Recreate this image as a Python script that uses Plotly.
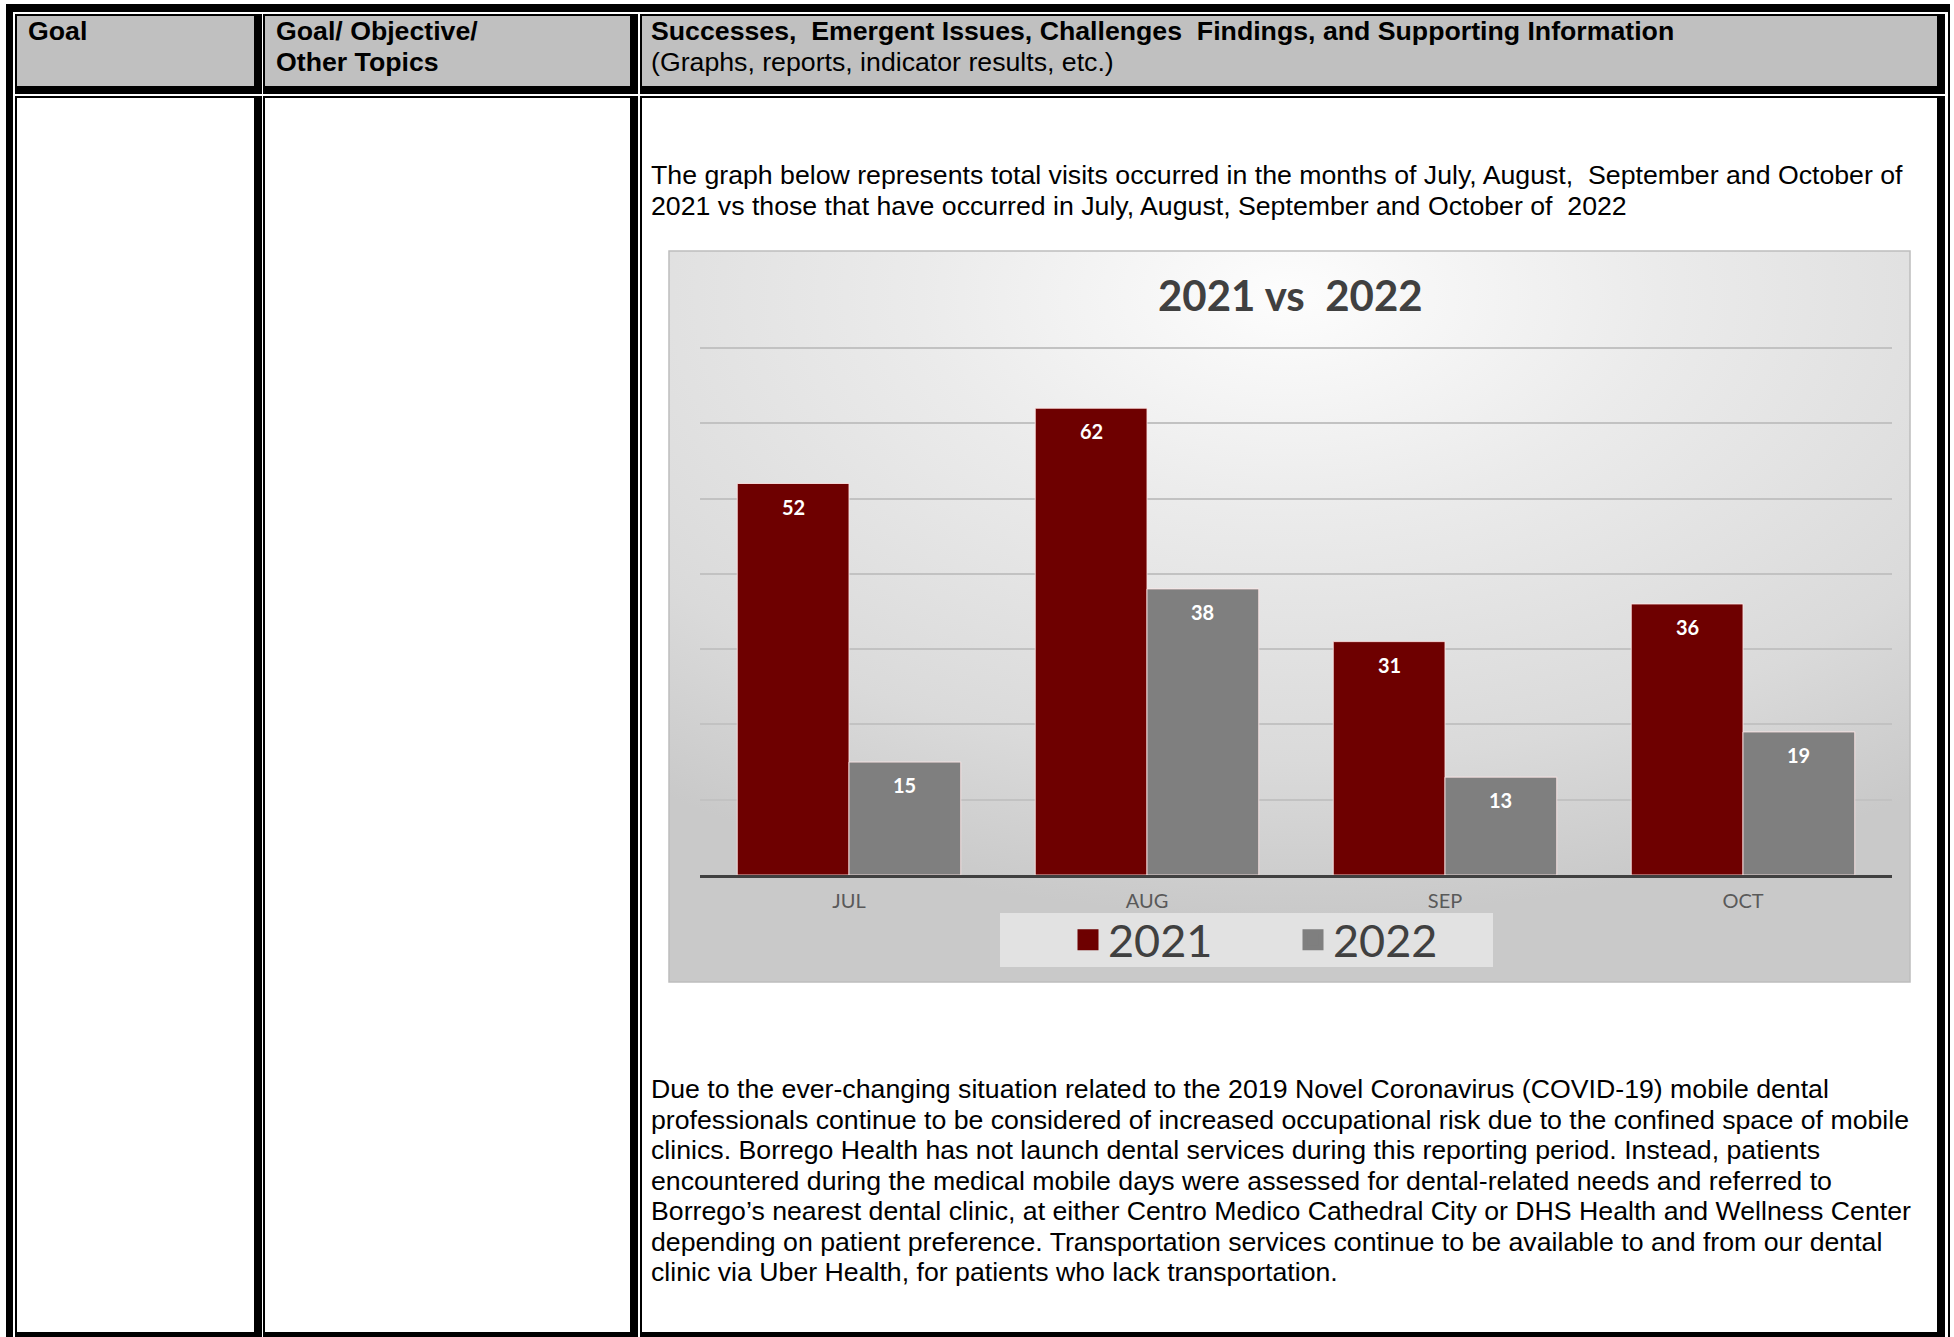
import base64
import plotly.graph_objects as go

# ---------------- data ----------------
months = ["JUL", "AUG", "SEP", "OCT"]
visits_2021 = [52, 62, 31, 36]
visits_2022 = [15, 38, 13, 19]
series_names = ["2021", "2022"]
series_colors = ["#6e0000", "#7f7f7f"]
chart_title = "2021 vs  2022"

header_goal = "Goal"
header_objective = ["Goal/ Objective/", "Other Topics"]
header_info_bold = "Successes,  Emergent Issues, Challenges  Findings, and Supporting Information"
header_info_sub = "(Graphs, reports, indicator results, etc.)"
para1_lines = [
    "The graph below represents total visits occurred in the months of July, August,  September and October of",
    "2021 vs those that have occurred in July, August, September and October of  2022",
]
para2_lines = [
    "Due to the ever-changing situation related to the 2019 Novel Coronavirus (COVID-19) mobile dental",
    "professionals continue to be considered of increased occupational risk due to the confined space of mobile",
    "clinics. Borrego Health has not launch dental services during this reporting period. Instead, patients",
    "encountered during the medical mobile days were assessed for dental-related needs and referred to",
    "Borrego\u2019s nearest dental clinic, at either Centro Medico Cathedral City or DHS Health and Wellness Center",
    "depending on patient preference. Transportation services continue to be available to and from our dental",
    "clinic via Uber Health, for patients who lack transportation.",
]

# ---------------- geometry helpers ----------------
W, H = 1954, 1337


def px(x):
    return x / W


def py(y):
    return 1 - y / H


DOC_FONT = "Liberation Sans, Arial, sans-serif"
CHART_FONT = "Lato, Open Sans, sans-serif"
DOC_SIZE = 26.7

fig = go.Figure()

# ---------------- bars ----------------
BARGAP = 0.25
for name, vals, col in zip(series_names, [visits_2021, visits_2022], series_colors):
    fig.add_trace(go.Bar(
        x=months, y=vals, name=name, legendgroup=name, showlegend=False,
        marker=dict(color=col, line=dict(color="rgba(255,230,230,0.85)", width=1)),
        hovertemplate="%{x}: %{y}<extra>" + name + "</extra>",
    ))
    fig.add_trace(go.Scatter(
        x=[None], y=[None], mode="markers", name=name, legendgroup=name,
        marker=dict(symbol="square", size=16, color=col, line=dict(color=col, width=5)),
        hoverinfo="skip",
    ))

# plot area in pixels
PLOT_L, PLOT_R = 700, 1892
AXIS_Y = 875
UNIT_PX = (875 - 348) / 70.0
YMAX = 72
PLOT_T = AXIS_Y - YMAX * UNIT_PX

cat_px = (PLOT_R - PLOT_L) / len(months)
bar_px = cat_px * (1 - BARGAP) / 2

annotations = []
# data labels
for k, vals in enumerate([visits_2021, visits_2022]):
    for m, v in zip(months, vals):
        annotations.append(dict(
            x=m, y=v, xref="x", yref="y", text="<b>%d</b>" % v, showarrow=False,
            xshift=(k - 0.5) * bar_px, yshift=-23, yanchor="middle",
            font=dict(family=CHART_FONT, size=20, color="white"),
        ))

# chart title
annotations.append(dict(
    x=px(1290), y=py(295), xref="paper", yref="paper", text="<b>%s</b>" % chart_title,
    showarrow=False, xanchor="center", yanchor="middle",
    font=dict(family=CHART_FONT, size=42, color="#404040"),
))

# document text
def doc_text(x, y, text, bold=False):
    annotations.append(dict(
        x=px(x), y=py(y), xref="paper", yref="paper",
        text=("<b>%s</b>" % text) if bold else text,
        showarrow=False, xanchor="left", yanchor="middle", align="left",
        font=dict(family=DOC_FONT, size=DOC_SIZE, color="black"),
    ))

doc_text(26, 30.5, header_goal, bold=True)
doc_text(274, 31, header_objective[0], bold=True)
doc_text(274, 62, header_objective[1], bold=True)
doc_text(649, 31, header_info_bold, bold=True)
doc_text(649, 62, header_info_sub)
for i, line in enumerate(para1_lines):
    doc_text(649, 174.5 + i * 31, line)
for i, line in enumerate(para2_lines):
    doc_text(649, 1089 + i * 30.5, line)

# ---------------- table shapes ----------------
shapes = []


def rect(x0, y0, x1, y1, fill, layer="below"):
    shapes.append(dict(type="rect", xref="paper", yref="paper",
                       x0=px(x0), x1=px(x1), y0=py(y1), y1=py(y0),
                       fillcolor=fill, line=dict(width=0), layer=layer))


col_lefts = [17, 265, 642]
col_rights = [254, 630, 1937]
rows = [(16, 86), (98, 1332)]

for ri, (top, bot) in enumerate(rows):
    for l, r in zip(col_lefts, col_rights):
        if ri == 0:
            rect(l, top, r, bot, "#c0c0c0")
        rect(l - 2, top - 2, r + 8, top, "black")
        rect(l - 2, top - 2, l, bot + 8, "black")
        rect(r, top - 2, r + 8, bot + 8, "black")
        rect(l - 2, bot, r + 8, bot + 8, "black")

rect(6, 4, 1950, 12, "black")
rect(6, 4, 13, 1340, "black")
rect(1948, 4, 1950, 1340, "black")

# chart frame & legend box
CH_L, CH_T, CH_R, CH_B = 669, 251, 1910, 982
shapes.append(dict(type="rect", xref="paper", yref="paper",
                   x0=px(CH_L), x1=px(CH_R), y0=py(CH_B), y1=py(CH_T),
                   fillcolor="rgba(0,0,0,0)", line=dict(color="#bdbdbd", width=1.5), layer="below"))
rect(1000, 913, 1493, 967, "rgba(236,236,236,0.7)")

# gradient background of the chart
svg = ('<svg xmlns="http://www.w3.org/2000/svg" width="1241" height="731" viewBox="0 0 1241 731" '
       'preserveAspectRatio="none"><defs><radialGradient id="g" cx="0.5" cy="0.06" r="0.85">'
       '<stop offset="0" stop-color="#fdfdfd"/><stop offset="0.35" stop-color="#ebebeb"/>'
       '<stop offset="0.75" stop-color="#dadada"/><stop offset="1" stop-color="#c9c9c9"/>'
       '</radialGradient></defs><rect width="1241" height="731" fill="url(#g)"/></svg>')
src = "data:image/svg+xml;base64," + base64.b64encode(svg.encode()).decode()

fig.update_layout(
    width=W, height=H, autosize=False,
    margin=dict(l=0, r=0, t=0, b=0),
    paper_bgcolor="white", plot_bgcolor="rgba(0,0,0,0)",
    barmode="group", bargap=BARGAP, bargroupgap=0,
    showlegend=True,
    legend=dict(orientation="h", x=px(1068), xanchor="left", y=py(940), yanchor="middle",
                bgcolor="rgba(0,0,0,0)", font=dict(family=CHART_FONT, size=45, color="#404040"),
                itemclick=False, itemdoubleclick=False, entrywidth=180),
    xaxis=dict(domain=[px(PLOT_L), px(PLOT_R)], showgrid=False, showline=True,
               linecolor="#404040", linewidth=3, ticks="", ticklabelstandoff=6,
               tickfont=dict(family=CHART_FONT, size=20, color="#595959"),
               fixedrange=True),
    yaxis=dict(domain=[py(AXIS_Y), py(PLOT_T)], range=[0, YMAX], dtick=10,
               showgrid=True, gridcolor="#c2c2c2", gridwidth=2, zeroline=False,
               showticklabels=False, showline=False, fixedrange=True),
    annotations=annotations,
    shapes=shapes,
    images=[dict(source=src, xref="paper", yref="paper", x=px(CH_L), y=py(CH_T),
                 sizex=px(CH_R) - px(CH_L), sizey=py(CH_T) - py(CH_B),
                 xanchor="left", yanchor="top", sizing="stretch", layer="below")],
)

fig.write_html("out.html", config={"displayModeBar": False},
               post_script="document.body.style.margin='0';document.body.style.overflow='hidden';")
